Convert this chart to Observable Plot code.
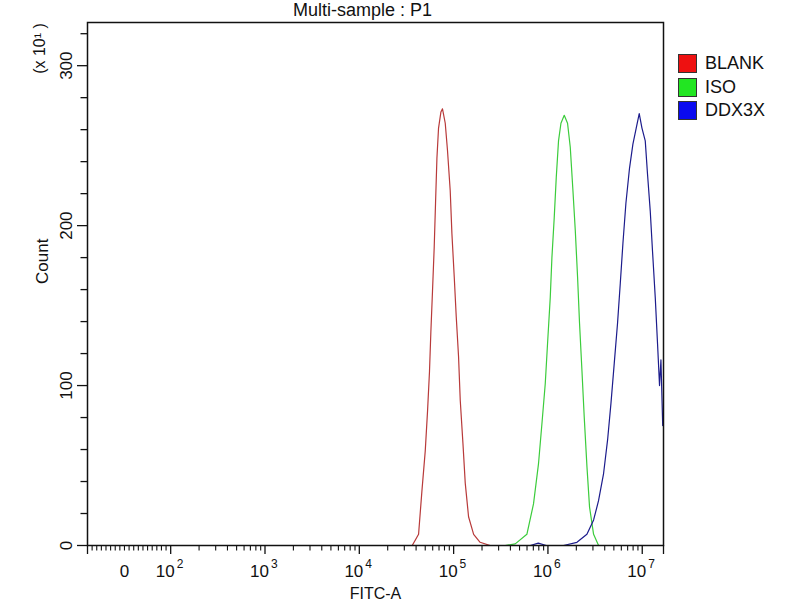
<!DOCTYPE html>
<html>
<head>
<meta charset="utf-8">
<script src="https://cdn.jsdelivr.net/npm/d3@7"></script>
<script src="https://cdn.jsdelivr.net/npm/@observablehq/plot@0.6"></script>
<style>
  html, body { margin: 0; padding: 0; background: #fff; }
  #chart { position: relative; width: 800px; height: 600px; font-family: "Liberation Sans", Arial, sans-serif; }
  .leyenda { position: absolute; left: 678px; top: 52px; font-size: 18px; color: #111; }
  .leyenda div { height: 23.5px; display: flex; align-items: center; }
  .leyenda span.sw { width: 17px; height: 17px; border: 1px solid #333; margin-right: 8px; display: inline-block; }
</style>
</head>
<body>
<div id="chart"></div>
<script>
  // Histogramas FITC-A (valor del canal, cuentas x10)
  const BLANK_X = [3.64e4, 4.25e4, 4.61e4, 5.0e4, 5.29e4, 5.55e4, 5.74e4, 5.97e4, 6.22e4, 6.43e4,
                   6.65e4, 6.92e4, 7.33e4, 7.62e4, 8.15e4, 8.61e4, 9.2e4, 9.59e4, 1.015e5, 1.066e5,
                   1.128e5, 1.175e5, 1.255e5, 1.328e5, 1.44e5, 1.63e5, 1.91e5, 2.44e5];
  const BLANK_Y = [0, 7, 34, 59, 84, 109, 134, 159, 186, 214,
                   242, 261, 271, 273, 264, 247, 222, 195, 168, 143,
                   118, 91, 64, 39, 18, 7, 2, 0];

  const ISO_X = [3.52e5, 4.5e5, 5.98e5, 7.03e5, 7.94e5, 8.63e5, 9.36e5, 9.9e5, 1.058e6, 1.102e6,
                 1.166e6, 1.225e6, 1.295e6, 1.374e6, 1.489e6, 1.614e6, 1.725e6, 1.841e6, 1.95e6, 2.061e6,
                 2.163e6, 2.296e6, 2.427e6, 2.594e6, 2.762e6, 3.048e6, 3.443e6];
  const ISO_Y = [0, 1, 7, 26, 51, 76, 101, 126, 155, 180,
                 205, 230, 253, 264, 269, 264, 249, 222, 197, 168,
                 139, 109, 80, 49, 24, 7, 0];

  const DDX_X = [6.5e5, 7.9e5, 9.6e5, 1.46e6, 2.03e6, 2.59e6, 3.05e6, 3.44e6, 3.89e6, 4.29e6,
                 4.66e6, 5.05e6, 5.47e6, 5.85e6, 6.24e6, 6.71e6, 7.33e6, 7.96e6, 8.63e6, 9.29e6,
                 9.93e6, 1.076e7, 1.138e7, 1.216e7, 1.285e7, 1.374e7, 1.453e7, 1.525e7, 1.578e7, 1.648e7];
  const DDX_Y = [0, 1.5, 0, 0, 2, 7, 16, 28, 45, 66,
                 89, 114, 139, 164, 189, 214, 236, 251, 261, 270,
                 261, 253, 232, 209, 184, 155, 126, 100, 116, 75];

  const SERIES = ["BLANK", "ISO", "DDX3X"];
  const COLORES_LINEA = ["#b83a3a", "#3ccc3c", "#1c1c8c"];
  const COLORES_LEYENDA = ["#ee1111", "#22e622", "#0a0af0"];

  const X_MIN = -80, X_MAX = 1.68e7;
  const Y_MAX = 327;
  const X_MAJOR = [100, 1e3, 1e4, 1e5, 1e6, 1e7];
  const X_EXP = ["2", "3", "4", "5", "6", "7"];
  const Y_MAJOR = [0, 100, 200, 300];

  // eje biexponencial aproximado: lineal bajo 100, log10 por encima
  function pos(v) { return v >= 100 ? Math.log10(v) : 2 + (v - 100) * 0.0049; }

  const X_MINOR = d3.range(-70, 100, 10).filter((v) => v !== 0)
    .concat(d3.range(2, 7).flatMap((k) => d3.range(2, 10).map((m) => m * 10 ** k)));
  const Y_MINOR = d3.range(20, Y_MAX, 20).filter((v) => v % 100 !== 0);

  const filas = (xs, ys) => xs.map((v, i) => ({u: pos(v), count: ys[i]}));
  const datos = [filas(BLANK_X, BLANK_Y), filas(ISO_X, ISO_Y), filas(DDX_X, DDX_Y)];

  const FUENTE = "'Liberation Sans', Arial, sans-serif";

  const grafico = Plot.plot({
    width: 800, height: 600,
    marginLeft: 87, marginRight: 137, marginTop: 22, marginBottom: 55,
    style: {background: "#fff", color: "#111", fontFamily: FUENTE, overflow: "visible"},
    x: {domain: [pos(X_MIN), pos(X_MAX)], axis: null},
    y: {domain: [0, Y_MAX], axis: null},
    marks: [
      ...datos.map((d, i) => Plot.line(d, {
        x: "u", y: "count", stroke: COLORES_LINEA[i], strokeWidth: 1.2, clip: true,
      })),
      Plot.frame({stroke: "#111", strokeWidth: 1.5}),
      // ticks x
      Plot.axisX(X_MAJOR.concat([X_MIN, X_MAX]).map(pos), {
        tickSize: 9, strokeWidth: 1.3, tickFormat: () => "", label: null,
      }),
      Plot.axisX(X_MINOR.concat([0]).map(pos), {
        tickSize: 5.5, strokeWidth: 1.1, tickFormat: () => "", label: null,
      }),
      // ticks y
      Plot.axisY(Y_MAJOR, {tickSize: 10, strokeWidth: 1.3, tickFormat: () => "", label: null}),
      Plot.axisY(Y_MINOR, {tickSize: 6.5, strokeWidth: 1.3, tickFormat: () => "", label: null}),
      // etiquetas x
      Plot.text([0], {
        x: (d) => pos(d), text: () => "0", frameAnchor: "bottom", dy: 31,
        lineAnchor: "bottom", fontSize: 17,
      }),
      Plot.text(X_MAJOR, {
        x: (d) => pos(d), text: () => "10", frameAnchor: "bottom", dx: 4, dy: 31,
        textAnchor: "end", lineAnchor: "bottom", fontSize: 17,
      }),
      Plot.text(X_MAJOR, {
        x: (d) => pos(d), text: (d, i) => X_EXP[i], frameAnchor: "bottom", dx: 6, dy: 22,
        textAnchor: "start", lineAnchor: "bottom", fontSize: 12,
      }),
      Plot.text(["FITC-A"], {
        text: (d) => d, frameAnchor: "bottom", dy: 53, lineAnchor: "bottom", fontSize: 16,
      }),
      // etiquetas y
      Plot.text(Y_MAJOR, {
        y: (d) => d, text: (d) => String(d), frameAnchor: "left", dx: -16,
        rotate: -90, lineAnchor: "bottom", textAnchor: "middle", fontSize: 17,
      }),
      Plot.text(["Count"], {
        text: (d) => d, frameAnchor: "left", dx: -40, rotate: -90,
        lineAnchor: "bottom", fontSize: 17,
      }),
      Plot.text(["(x 10\u00b9 )"], {
        text: (d) => d, frameAnchor: "top-left", dx: -43, dy: 26, rotate: -90,
        lineAnchor: "bottom", textAnchor: "middle", fontSize: 16,
      }),
      // título
      Plot.text(["Multi-sample : P1"], {
        text: (d) => d, frameAnchor: "top", dx: -13, dy: -7, lineAnchor: "bottom", fontSize: 18,
      }),
    ],
  });

  const host = document.getElementById("chart");
  host.appendChild(grafico);

  const ley = document.createElement("div");
  ley.className = "leyenda";
  ley.innerHTML = SERIES.map((s, i) =>
    `<div><span class="sw" style="background:${COLORES_LEYENDA[i]}"></span>${s}</div>`).join("");
  host.appendChild(ley);
</script>
</body>
</html>
